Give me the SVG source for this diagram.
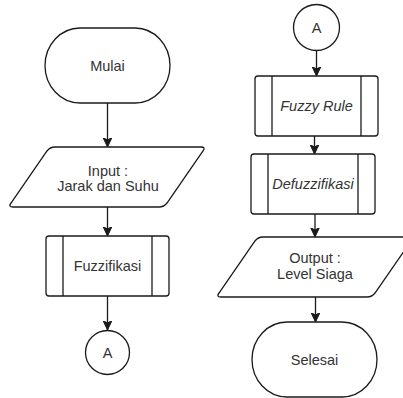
<svg xmlns="http://www.w3.org/2000/svg" width="403" height="398" viewBox="0 0 403 398">
  <style>
    .s { fill: #ffffff; stroke: #1a1a1a; stroke-width: 1.3; }
    .l { fill: none; stroke: #1a1a1a; stroke-width: 1.3; }
    .t { font-family: "Liberation Sans", Arial, sans-serif; font-size: 14.5px; fill: #333333; text-anchor: middle; }
    .i { font-style: italic; }
    .c { fill: none; stroke: #1a1a1a; stroke-width: 1.3; }
    .ah { fill: #1a1a1a; stroke: #1a1a1a; stroke-width: 1; stroke-linejoin: miter; }
  </style>
  <defs>
    <marker id="arrow" viewBox="0 0 10 10" refX="9.5" refY="5" markerWidth="10" markerHeight="10" markerUnits="userSpaceOnUse" orient="auto">
      <path d="M0,0.5 L9.5,5 L0,9.5 L2.5,5 Z" class="ah"/>
    </marker>
  </defs>
  <rect width="403" height="398" fill="#ffffff"/>

  <g id="connectors">
    <line class="c" x1="107.5" y1="103" x2="107.5" y2="147" marker-end="url(#arrow)"/>
    <line class="c" x1="107.5" y1="207" x2="107.5" y2="236" marker-end="url(#arrow)"/>
    <line class="c" x1="107.5" y1="296" x2="107.5" y2="330" marker-end="url(#arrow)"/>
    <line class="c" x1="316.5" y1="50" x2="316.5" y2="76" marker-end="url(#arrow)"/>
    <line class="c" x1="314.5" y1="136" x2="314.5" y2="154" marker-end="url(#arrow)"/>
    <line class="c" x1="315" y1="214" x2="315" y2="237" marker-end="url(#arrow)"/>
    <line class="c" x1="315.5" y1="297" x2="315.5" y2="322" marker-end="url(#arrow)"/>
  </g>

  <g id="mulai">
    <rect class="s" x="45" y="28" width="125" height="75" rx="35" ry="37.5"/>
    <text class="t" x="107.5" y="71">Mulai</text>
  </g>

  <g id="input">
    <path class="s" d="M55,147 L201,147 Q206,147 203,151 L167,203 Q164,207 159,207 L13,207 Q8,207 11,203 L47,151 Q50,147 55,147 Z"/>
    <text class="t" x="108" y="176">Input :</text>
    <text class="t" x="108" y="191">Jarak dan Suhu</text>
  </g>

  <g id="fuzzifikasi">
    <rect class="s" x="46" y="236" width="123" height="60" rx="3" ry="3"/>
    <line class="l" x1="63" y1="236" x2="63" y2="296"/>
    <line class="l" x1="152" y1="236" x2="152" y2="296"/>
    <text class="t" x="107.5" y="271">Fuzzifikasi</text>
  </g>

  <g id="connector-a1">
    <circle class="s" cx="107.5" cy="352.5" r="22"/>
    <text class="t" x="107.5" y="358">A</text>
  </g>

  <g id="connector-a2">
    <circle class="s" cx="316.5" cy="27.5" r="23"/>
    <text class="t" x="316.5" y="33">A</text>
  </g>

  <g id="fuzzy-rule">
    <rect class="s" x="255" y="76" width="123" height="60" rx="3" ry="3"/>
    <line class="l" x1="272" y1="76" x2="272" y2="136"/>
    <line class="l" x1="361" y1="76" x2="361" y2="136"/>
    <text class="t i" x="316.5" y="111">Fuzzy Rule</text>
  </g>

  <g id="defuzzifikasi">
    <rect class="s" x="251" y="154" width="124" height="60" rx="3" ry="3"/>
    <line class="l" x1="268" y1="154" x2="268" y2="214"/>
    <line class="l" x1="358" y1="154" x2="358" y2="214"/>
    <text class="t i" x="313" y="189">Defuzzifikasi</text>
  </g>

  <g id="output">
    <path class="s" d="M263,237 L409,237 Q414,237 411,241 L375,293 Q372,297 367,297 L221,297 Q216,297 219,293 L255,241 Q258,237 263,237 Z"/>
    <text class="t" x="315" y="263">Output :</text>
    <text class="t" x="315" y="279">Level Siaga</text>
  </g>

  <g id="selesai">
    <rect class="s" x="252" y="322" width="125" height="75" rx="35" ry="37.5"/>
    <text class="t" x="314.5" y="365">Selesai</text>
  </g>
</svg>
